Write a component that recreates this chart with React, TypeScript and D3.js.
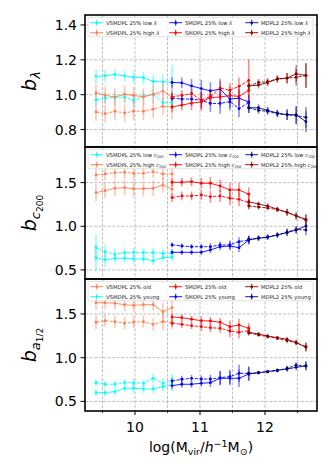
import React from 'react'
import * as d3 from 'd3'

// halo mass bins (log M_vir)
const xVS = [9.40, 9.54, 9.69, 9.84, 9.98, 10.13, 10.28, 10.43, 10.57]
const xSM = [10.57, 10.72, 10.87, 11.02, 11.16, 11.31, 11.46, 11.60, 11.75]
const xMD = [11.75, 11.90, 12.04, 12.19, 12.34, 12.48, 12.63]

// spin panel
const vsLowLamA = [1.105, 1.108, 1.116, 1.108, 1.100, 1.097, 1.076, 1.074, 1.072]
const vsLowLamB = [0.968, 0.981, 0.983, 0.985, 0.968, 0.990, 1.002, 0.954, 0.954]
const vsHighLamA = [1.011, 0.996, 0.987, 1.002, 0.996, 0.987, 1.002, 1.021, 0.987]
const vsHighLamB = [0.901, 0.891, 0.905, 0.895, 0.905, 0.905, 0.916, 0.933, 0.929]
const smLowLamA = [1.070, 1.068, 1.050, 1.035, 1.022, 1.032, 0.975, 0.980, 0.958]
const smLowLamB = [0.980, 0.975, 0.975, 0.968, 0.950, 0.950, 0.960, 0.920, 0.955]
const smHighLamA = [0.930, 0.940, 0.952, 0.958, 0.983, 0.987, 0.995, 0.990, 1.025]
const smHighLamB = [0.987, 0.996, 1.006, 0.968, 0.990, 1.038, 1.025, 1.048, 1.082]
const mdLowLamA = [0.925, 0.925, 0.910, 0.895, 0.885, 0.885, 0.845]
const mdLowLamB = [0.925, 0.910, 0.905, 0.890, 0.885, 0.880, 0.870]
const mdHighLamA = [1.050, 1.055, 1.070, 1.090, 1.095, 1.120, 1.110]
const mdHighLamB = [1.050, 1.070, 1.075, 1.090, 1.095, 1.100, 1.110]

// concentration panel
const vsLowCA = [0.755, 0.709, 0.679, 0.698, 0.702, 0.698, 0.698, 0.691, 0.691]
const vsLowCB = [0.640, 0.614, 0.633, 0.633, 0.625, 0.625, 0.606, 0.640, 0.645]
const vsHighCA = [1.588, 1.599, 1.614, 1.619, 1.607, 1.607, 1.625, 1.599, 1.599]
const vsHighCB = [1.385, 1.408, 1.435, 1.442, 1.430, 1.430, 1.435, 1.473, 1.424]
const smLowCA = [0.786, 0.774, 0.766, 0.766, 0.766, 0.786, 0.786, 0.824, 0.843]
const smLowCB = [0.702, 0.702, 0.702, 0.702, 0.729, 0.766, 0.774, 0.755, 0.843]
const smHighCA = [1.504, 1.504, 1.511, 1.493, 1.493, 1.462, 1.416, 1.416, 1.367]
const smHighCB = [1.328, 1.347, 1.347, 1.358, 1.339, 1.347, 1.321, 1.309, 1.270]
const mdLowCA = [0.843, 0.862, 0.874, 0.900, 0.927, 0.958, 1.003]
const mdLowCB = [0.850, 0.866, 0.877, 0.900, 0.935, 0.962, 0.958]
const mdHighCA = [1.282, 1.255, 1.233, 1.195, 1.160, 1.118, 1.080]
const mdHighCB = [1.233, 1.220, 1.210, 1.190, 1.160, 1.118, 1.070]

// formation time panel
const vsOldA = [1.629, 1.629, 1.622, 1.606, 1.599, 1.606, 1.606, 1.526, 1.572]
const vsOldB = [1.405, 1.423, 1.412, 1.394, 1.405, 1.412, 1.382, 1.412, 1.405]
const smOldA = [1.466, 1.458, 1.440, 1.423, 1.420, 1.405, 1.355, 1.374, 1.336]
const smOldB = [1.394, 1.382, 1.366, 1.355, 1.343, 1.336, 1.305, 1.290, 1.309]
const mdOldA = [1.290, 1.271, 1.248, 1.229, 1.210, 1.172, 1.119]
const mdOldB = [1.283, 1.260, 1.240, 1.220, 1.195, 1.172, 1.126]
const vsYoungA = [0.714, 0.696, 0.696, 0.714, 0.714, 0.707, 0.764, 0.707, 0.745]
const vsYoungB = [0.600, 0.600, 0.611, 0.650, 0.650, 0.642, 0.642, 0.668, 0.687]
const smYoungA = [0.733, 0.753, 0.764, 0.756, 0.756, 0.771, 0.783, 0.821, 0.821]
const smYoungB = [0.680, 0.696, 0.696, 0.707, 0.714, 0.764, 0.764, 0.764, 0.813]
const mdYoungA = [0.821, 0.828, 0.840, 0.851, 0.879, 0.916, 0.905]
const mdYoungB = [0.813, 0.828, 0.840, 0.858, 0.870, 0.890, 0.905]

// error bar half-lengths
const errVS1 = [0.04, 0.035, 0.03, 0.03, 0.035, 0.035, 0.04, 0.04, 0.10]
const errVS1b = [0.03, 0.03, 0.03, 0.03, 0.03, 0.03, 0.03, 0.03, 0.03]
const errVS2 = [0.05, 0.05, 0.05, 0.05, 0.05, 0.05, 0.05, 0.05, 0.07]
const errSM1 = [0.03, 0.03, 0.04, 0.05, 0.05, 0.06, 0.05, 0.05, 0.04]
const errSM2 = [0.03, 0.03, 0.03, 0.04, 0.04, 0.04, 0.04, 0.05, 0.12]
const errMD1 = [0.03, 0.02, 0.02, 0.02, 0.03, 0.05, 0.06]
const errMD2 = [0.02, 0.02, 0.02, 0.02, 0.03, 0.05, 0.07]
const errVSc1 = [0.15, 0.08, 0.06, 0.05, 0.05, 0.05, 0.05, 0.05, 0.05]
const errVSc2 = [0.10, 0.09, 0.09, 0.09, 0.09, 0.09, 0.09, 0.09, 0.09]
const errVSc3 = [0.07, 0.07, 0.07, 0.07, 0.07, 0.07, 0.07, 0.07, 0.07]
const errSMc1 = [0.03, 0.03, 0.03, 0.03, 0.04, 0.04, 0.05, 0.05, 0.05]
const errSMc2 = [0.05, 0.05, 0.05, 0.06, 0.07, 0.07, 0.08, 0.08, 0.08]
const errMDc = [0.03, 0.03, 0.03, 0.03, 0.04, 0.04, 0.06]
const errVSa1 = [0.08, 0.07, 0.07, 0.07, 0.07, 0.07, 0.07, 0.10, 0.08]
const errVSa2 = [0.04, 0.04, 0.04, 0.04, 0.05, 0.04, 0.05, 0.05, 0.07]
const errSMa1 = [0.04, 0.04, 0.04, 0.05, 0.05, 0.05, 0.07, 0.07, 0.06]
const errSMa2 = [0.04, 0.04, 0.04, 0.04, 0.05, 0.08, 0.08, 0.10, 0.08]
const errMDa = [0.02, 0.02, 0.02, 0.02, 0.03, 0.03, 0.05]

const C_VS_A = '#00ffff', C_VS_B = '#ff7f50'
const C_SM_A = '#0000ff', C_SM_B = '#ff0000'
const C_MD_A = '#00008b', C_MD_B = '#8b0000'

const FONT = 'DejaVu Sans, sans-serif'
const W = 333, H = 475
const L = 85, R = 317
const xTicks = [10, 11, 12]
const xMinor = [9.5, 10.5, 11.5, 12.5]

const x = d3.scaleLinear().domain([9.2308, 12.8]).range([L, R])

type Line = { xs: number[]; ys: number[]; es: number[]; color: string; dashed?: boolean }
type Leg = { color: string; label: React.ReactNode }

function lab(pre: string, kind: string) {
  if (kind === 'lam') return <>{pre}<tspan fontStyle="italic">λ</tspan></>
  if (kind === 'c') return <>{pre}<tspan fontStyle="italic">c</tspan><tspan fontSize="3.6" dy="1">200</tspan></>
  return <>{pre}</>
}

const panels = [
  {
    top: 15, bottom: 147, domain: [0.70, 1.457], ticks: [0.8, 1.0, 1.2, 1.4],
    ylab: 'lam',
    lines: [
      { xs: xVS, ys: vsLowLamA, es: errVS1, color: C_VS_A },
      { xs: xVS, ys: vsLowLamB, es: errVS1b, color: C_VS_A, dashed: true },
      { xs: xVS, ys: vsHighLamA, es: errVS2, color: C_VS_B },
      { xs: xVS, ys: vsHighLamB, es: errVS2, color: C_VS_B, dashed: true },
      { xs: xSM, ys: smLowLamA, es: errSM1, color: C_SM_A },
      { xs: xSM, ys: smLowLamB, es: errSM1, color: C_SM_A, dashed: true },
      { xs: xSM, ys: smHighLamA, es: errSM1, color: C_SM_B },
      { xs: xSM, ys: smHighLamB, es: errSM2, color: C_SM_B, dashed: true },
      { xs: xMD, ys: mdLowLamA, es: errMD1, color: C_MD_A },
      { xs: xMD, ys: mdLowLamB, es: errMD1, color: C_MD_A, dashed: true },
      { xs: xMD, ys: mdHighLamA, es: errMD2, color: C_MD_B },
      { xs: xMD, ys: mdHighLamB, es: errMD2, color: C_MD_B, dashed: true },
    ] as Line[],
    legend: [
      [{ color: C_VS_A, label: lab('VSMDPL 25% low ', 'lam') }, { color: C_SM_A, label: lab('SMDPL 25% low ', 'lam') }, { color: C_MD_A, label: lab('MDPL2 25% low ', 'lam') }],
      [{ color: C_VS_B, label: lab('VSMDPL 25% high ', 'lam') }, { color: C_SM_B, label: lab('SMDPL 25% high ', 'lam') }, { color: C_MD_B, label: lab('MDPL2 25% high ', 'lam') }],
    ] as Leg[][],
  },
  {
    top: 147, bottom: 279, domain: [0.396, 1.908], ticks: [0.5, 1.0, 1.5],
    ylab: 'c',
    lines: [
      { xs: xVS, ys: vsLowCA, es: errVSc1, color: C_VS_A, dashed: true },
      { xs: xVS, ys: vsLowCB, es: errVSc1, color: C_VS_A },
      { xs: xVS, ys: vsHighCA, es: errVSc3, color: C_VS_B, dashed: true },
      { xs: xVS, ys: vsHighCB, es: errVSc2, color: C_VS_B },
      { xs: xSM, ys: smLowCA, es: errSMc1, color: C_SM_A, dashed: true },
      { xs: xSM, ys: smLowCB, es: errSMc1, color: C_SM_A },
      { xs: xSM, ys: smHighCA, es: errSMc2, color: C_SM_B },
      { xs: xSM, ys: smHighCB, es: errSMc2, color: C_SM_B, dashed: true },
      { xs: xMD, ys: mdLowCA, es: errMDc, color: C_MD_A },
      { xs: xMD, ys: mdLowCB, es: errMDc, color: C_MD_A, dashed: true },
      { xs: xMD, ys: mdHighCA, es: errMDc, color: C_MD_B },
      { xs: xMD, ys: mdHighCB, es: errMDc, color: C_MD_B, dashed: true },
    ] as Line[],
    legend: [
      [{ color: C_VS_A, label: lab('VSMDPL 25% low ', 'c') }, { color: C_SM_A, label: lab('SMDPL 25% low ', 'c') }, { color: C_MD_A, label: lab('MDPL2 25% low ', 'c') }],
      [{ color: C_VS_B, label: lab('VSMDPL 25% high ', 'c') }, { color: C_SM_B, label: lab('SMDPL 25% high ', 'c') }, { color: C_MD_B, label: lab('MDPL2 25% high ', 'c') }],
    ] as Leg[][],
  },
  {
    top: 279, bottom: 411, domain: [0.39, 1.90], ticks: [0.5, 1.0, 1.5],
    ylab: 'a',
    lines: [
      { xs: xVS, ys: vsOldA, es: errVSa1, color: C_VS_B },
      { xs: xVS, ys: vsOldB, es: errVSa1, color: C_VS_B, dashed: true },
      { xs: xSM, ys: smOldA, es: errSMa1, color: C_SM_B },
      { xs: xSM, ys: smOldB, es: errSMa1, color: C_SM_B, dashed: true },
      { xs: xMD, ys: mdOldA, es: errMDa, color: C_MD_B },
      { xs: xMD, ys: mdOldB, es: errMDa, color: C_MD_B, dashed: true },
      { xs: xVS, ys: vsYoungA, es: errVSa2, color: C_VS_A, dashed: true },
      { xs: xVS, ys: vsYoungB, es: errVSa2, color: C_VS_A },
      { xs: xSM, ys: smYoungA, es: errSMa2, color: C_SM_A, dashed: true },
      { xs: xSM, ys: smYoungB, es: errSMa2, color: C_SM_A },
      { xs: xMD, ys: mdYoungA, es: errMDa, color: C_MD_A, dashed: true },
      { xs: xMD, ys: mdYoungB, es: errMDa, color: C_MD_A },
    ] as Line[],
    legend: [
      [{ color: C_VS_B, label: 'VSMDPL 25% old' }, { color: C_SM_B, label: 'SMDPL 25% old' }, { color: C_MD_B, label: 'MDPL2 25% old' }],
      [{ color: C_VS_A, label: 'VSMDPL 25% young' }, { color: C_SM_A, label: 'SMDPL 25% young' }, { color: C_MD_A, label: 'MDPL2 25% young' }],
    ] as Leg[][],
  },
]

function YLabel({ kind, cy }: { kind: string; cy: number }) {
  const cx = 36
  return (
    <text transform={`translate(${cx},${cy}) rotate(-90)`} textAnchor="middle" fontFamily={FONT} fontSize={19}>
      <tspan fontStyle="italic">b</tspan>
      {kind === 'lam' && <tspan fontStyle="italic" fontSize={13} dy={4}>λ</tspan>}
      {kind === 'c' && <><tspan fontStyle="italic" fontSize={13} dy={4}>c</tspan><tspan fontSize={9} dy={2.5}>200</tspan></>}
      {kind === 'a' && <><tspan fontStyle="italic" fontSize={13} dy={4}>a</tspan><tspan fontSize={9} dy={2.5}>1/2</tspan></>}
    </text>
  )
}

function Panel({ p }: { p: typeof panels[number] }) {
  const y = d3.scaleLinear().domain(p.domain).range([p.bottom, p.top])
  const line = d3.line<[number, number]>().x(d => x(d[0])).y(d => y(d[1]))
  const grid = '#b0b0b0'
  const legTop = p.top + 2.3
  const colHandle = [96.7, 175.7, 251.7]
  const rowY = [legTop + 5.4, legTop + 15.4]
  return (
    <g>
      <defs>
        <clipPath id={`clip${p.top}`}><rect x={L} y={p.top} width={R - L} height={p.bottom - p.top} /></clipPath>
      </defs>
      {[...xTicks, ...xMinor].map(t => (
        <line key={'gx' + t} x1={x(t)} x2={x(t)} y1={p.top} y2={p.bottom} stroke={grid} strokeWidth={0.8} strokeDasharray="3,1.5" />
      ))}
      {p.ticks.map(t => (
        <line key={'gy' + t} x1={L} x2={R} y1={y(t)} y2={y(t)} stroke={grid} strokeWidth={0.8} strokeDasharray="3,1.5" />
      ))}
      <g clipPath={`url(#clip${p.top})`}>
        {p.lines.map((s, i) => (
          <g key={'e' + i} stroke={s.color} strokeOpacity={0.45} strokeWidth={1.6}>
            {s.xs.map((xv, j) => (
              <line key={j} x1={x(xv)} x2={x(xv)} y1={y(s.ys[j] - s.es[j])} y2={y(s.ys[j] + s.es[j])} />
            ))}
          </g>
        ))}
        {p.lines.map((s, i) => (
          <g key={'l' + i}>
            <path d={line(s.xs.map((xv, j) => [xv, s.ys[j]] as [number, number])) || ''} fill="none" stroke={s.color} strokeWidth={0.9} strokeDasharray={s.dashed ? '3.2,1.4' : undefined} />
            {s.xs.map((xv, j) => (
              <circle key={j} cx={x(xv)} cy={y(s.ys[j])} r={1.4} fill={s.color} />
            ))}
          </g>
        ))}
      </g>
      {/* legend */}
      <rect x={88} y={legTop} width={225} height={19.5} rx={1.5} fill="#fff" fillOpacity={0.85} stroke="#cccccc" strokeWidth={0.6} />
      {p.legend.map((row, ri) => row.map((it, ci) => (
        <g key={`lg${ri}${ci}`}>
          <line x1={colHandle[ci] - 6.5} x2={colHandle[ci] + 6.5} y1={rowY[ri]} y2={rowY[ri]} stroke={it.color} strokeWidth={0.9} />
          <line x1={colHandle[ci]} x2={colHandle[ci]} y1={rowY[ri] - 3} y2={rowY[ri] + 3} stroke={it.color} strokeWidth={0.9} />
          <circle cx={colHandle[ci]} cy={rowY[ri]} r={1.3} fill={it.color} />
          <text x={colHandle[ci] + 9.3} y={rowY[ri] + 1.8} fontFamily={FONT} fontSize={5.3} fill="#222">{it.label}</text>
        </g>
      )))}
      {/* y ticks */}
      {p.ticks.map(t => (
        <g key={'ty' + t}>
          <line x1={L - 4.5} x2={L} y1={y(t)} y2={y(t)} stroke="#000" strokeWidth={1} />
          <text x={L - 8} y={y(t)} dy="0.36em" textAnchor="end" fontFamily={FONT} fontSize={14}>{t.toFixed(1)}</text>
        </g>
      ))}
      <rect x={L} y={p.top} width={R - L} height={p.bottom - p.top} fill="none" stroke="#000" strokeWidth={1.6} />
      <YLabel kind={p.ylab} cy={(p.top + p.bottom) / 2} />
    </g>
  )
}

export default function App() {
  const bottom = 411
  return (
    <svg width={W} height={H} style={{ position: 'absolute', left: 0, top: 0, background: '#fff' }}>
      <rect width={W} height={H} fill="#fff" />
      {panels.map(p => <Panel key={p.top} p={p} />)}
      {xTicks.map(t => (
        <g key={'tx' + t}>
          <line x1={x(t)} x2={x(t)} y1={bottom} y2={bottom + 4} stroke="#000" strokeWidth={1} />
          <text x={x(t)} y={431.5} textAnchor="middle" fontFamily={FONT} fontSize={14}>{t}</text>
        </g>
      ))}
      {xMinor.map(t => (
        <line key={'mx' + t} x1={x(t)} x2={x(t)} y1={bottom} y2={bottom + 2.2} stroke="#000" strokeWidth={0.7} />
      ))}
      <text x={(L + R) / 2} y={452} textAnchor="middle" fontFamily={FONT} fontSize={14}>
        log(M<tspan fontSize={9.5} dy={3}>vir</tspan><tspan dy={-3}>/</tspan><tspan fontStyle="italic">h</tspan><tspan fontSize={9.5} dy={-5}>−1</tspan><tspan dy={5}>M</tspan><tspan fontSize={9.5} dy={3}>⊙</tspan><tspan dy={-3}>)</tspan>
      </text>
    </svg>
  )
}
